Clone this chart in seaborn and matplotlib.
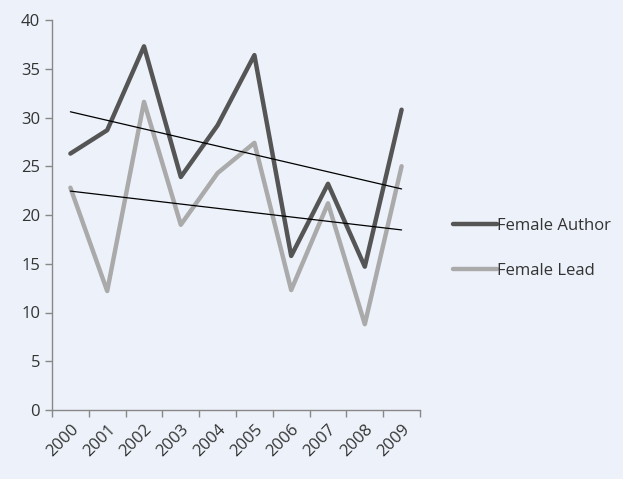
import matplotlib
matplotlib.use("Agg")
import matplotlib.pyplot as plt
import numpy as np
import pandas as pd
import seaborn as sns

years = ["2000", "2001", "2002", "2003", "2004", "2005", "2006", "2007", "2008", "2009"]
female_author = [26.3, 28.7, 37.3, 23.9, 29.2, 36.4, 15.8, 23.2, 14.7, 30.8]
female_lead = [22.8, 12.2, 31.6, 19.0, 24.3, 27.4, 12.3, 21.2, 8.8, 25.0]

bg = "#edf2fa"
sns.set_theme(style="ticks")
plt.rcParams['font.family'] = ['Open Sans', 'DejaVu Sans']

df = pd.DataFrame({
    "x": list(range(len(years))) * 2,
    "value": female_author + female_lead,
    "series": ["Female Author"] * len(years) + ["Female Lead"] * len(years),
})

fig = plt.figure(figsize=(6.23, 4.79), dpi=100, facecolor=bg)
ax = fig.add_axes([52 / 623, 69 / 479, 368 / 623, 390 / 479])
ax.set_facecolor(bg)

sns.lineplot(
    data=df, x="x", y="value", hue="series",
    palette={"Female Author": "#555555", "Female Lead": "#aaaaaa"},
    linewidth=3.2, ax=ax,
)

# linear trend lines
xs = np.arange(len(years))
for vals in (female_author, female_lead):
    k, b = np.polyfit(xs, vals, 1)
    ax.plot(xs, k * xs + b, color="black", linewidth=0.9)

ax.set_xlim(-0.5, len(years) - 0.5)
ax.set_ylim(0, 40)
ax.set_yticks(range(0, 41, 5))
ax.set_xticks(xs)
ax.set_xticklabels(years, rotation=45, ha="right", rotation_mode="anchor")
ax.set_xticks(np.arange(-0.5, len(years)), minor=True)
ax.tick_params(axis="x", which="major", length=0, pad=8)
ax.tick_params(axis="x", which="minor", length=5, color="#888888", width=1)
ax.tick_params(axis="y", length=5, color="#888888", width=1)
ax.tick_params(labelsize=12, labelcolor="#333333")
ax.set_xlabel("")
ax.set_ylabel("")
for side in ("top", "right"):
    ax.spines[side].set_visible(False)
for side in ("left", "bottom"):
    ax.spines[side].set_color("#888888")
    ax.spines[side].set_linewidth(1)

leg = ax.legend(
    loc="center left", bbox_to_anchor=(1.05, 0.415), frameon=False,
    fontsize=12, handlelength=2.6, handletextpad=0.0, labelspacing=1.75,
)
for t in leg.get_texts():
    t.set_color("#333333")

fig.savefig("out.png", dpi=100, facecolor=bg)
